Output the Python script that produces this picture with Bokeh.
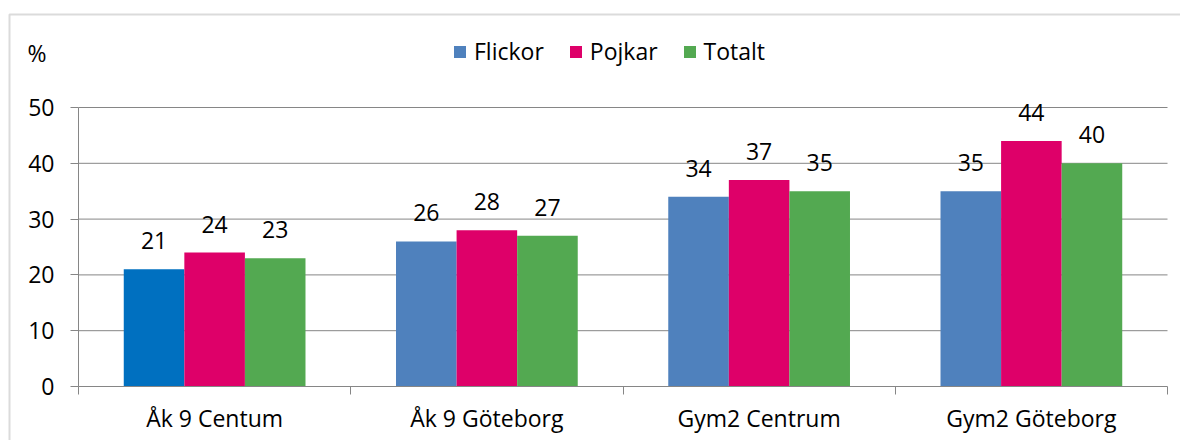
from bokeh.plotting import figure
from bokeh.models import (ColumnDataSource, Range1d, FixedTicker, Legend, LegendItem,
                          LabelSet, Label, LinearAxis, BoxAnnotation)
from bokeh.core.properties import value
from bokeh.embed import file_html
from bokeh.resources import INLINE

# ---- data ----
categories = ["Åk 9 Centum", "Åk 9 Göteborg", "Gym2 Centrum", "Gym2 Göteborg"]
flickor = [21, 26, 34, 35]
pojkar = [24, 28, 37, 44]
totalt = [23, 27, 35, 40]
series_names = ["Flickor", "Pojkar", "Totalt"]
y_ticks = [0, 10, 20, 30, 40, 50]
y_max = 50

# ---- style / layout ----
FONT = "Open Sans"
FS = "23px"
GRAY = "#868686"
BORDER = "#898989"
C_FLICKOR = "#4F81BD"
C_FLICKOR_FIRST = "#0070C0"
C_POJKAR = "#DE0069"
C_TOTALT = "#53A951"
BAR_W = 0.2225

W, H = 1180, 440
PAD_L, PAD_R, PAD_T, PAD_B = 78, 13, 107, 54   # plot area inside the canvas (px)

n = len(categories)
xpp = n / (W - PAD_L - PAD_R)          # data units per pixel
ypp = y_max / (H - PAD_T - PAD_B)
x_range = Range1d(-PAD_L * xpp, n + PAD_R * xpp)
y_range = Range1d(-PAD_B * ypp, y_max + PAD_T * ypp)

p = figure(width=W, height=H, output_backend="svg", toolbar_location=None,
           x_range=x_range, y_range=y_range, x_axis_location=None, y_axis_location=None,
           min_border=0, background_fill_color="white", border_fill_color="white")
p.outline_line_color = None
p.grid.visible = False

# chart border (top and left edges visible)
p.add_layout(BoxAnnotation(left=x_range.start + 9 * xpp, top=y_range.end - 14 * ypp,
                           right=x_range.end + 10, bottom=y_range.start - 10,
                           fill_alpha=0, line_color=BORDER, line_width=2))

# horizontal gridlines
grid_y = [t for t in y_ticks if t > 0]
p.segment(x0=[0] * len(grid_y), x1=[n] * len(grid_y), y0=grid_y, y1=grid_y,
          line_color=GRAY, line_width=1)

# y axis
yaxis = LinearAxis(fixed_location=0, bounds=(0, y_max), ticker=FixedTicker(ticks=y_ticks))
yaxis.axis_line_color = GRAY
yaxis.major_tick_line_color = GRAY
yaxis.major_tick_out = 8
yaxis.major_tick_in = 0
yaxis.minor_tick_line_color = None
yaxis.major_label_standoff = 16
yaxis.major_label_text_font = FONT
yaxis.major_label_text_font_size = FS
yaxis.major_label_text_color = "black"
p.add_layout(yaxis, "left")

# x axis: labels at category centres, ticks at category boundaries
centers = [i + 0.5 for i in range(n)]
xaxis = LinearAxis(fixed_location=0, bounds=(0, n),
                   ticker=FixedTicker(ticks=centers, minor_ticks=list(range(n + 1))))
xaxis.major_label_overrides = {c: name for c, name in zip(centers, categories)}
xaxis.axis_line_color = GRAY
xaxis.major_tick_line_color = None
xaxis.major_tick_out = 8
xaxis.minor_tick_line_color = GRAY
xaxis.minor_tick_out = 8
xaxis.minor_tick_in = 0
xaxis.major_label_standoff = 7
xaxis.major_label_text_font = FONT
xaxis.major_label_text_font_size = FS
xaxis.major_label_text_color = "black"
p.add_layout(xaxis, "below")

flickor_colors = [C_FLICKOR_FIRST] + [C_FLICKOR] * (n - 1)
series = [(flickor, flickor_colors, C_FLICKOR),
          (pojkar, [C_POJKAR] * n, C_POJKAR),
          (totalt, [C_TOTALT] * n, C_TOTALT)]

items = []
for j, (vals, cols, legend_col) in enumerate(series):
    xs = [c + (j - 1) * BAR_W for c in centers]
    src = ColumnDataSource(dict(x=xs, top=vals, color=cols, label=[str(v) for v in vals]))
    p.vbar(x="x", top="top", width=BAR_W, bottom=0, source=src,
           fill_color="color", line_color=None)
    proxy = p.vbar(x=[0], top=[0], width=0, fill_color=legend_col, line_color=None)
    items.append(LegendItem(label=series_names[j], renderers=[proxy]))
    p.add_layout(LabelSet(x="x", y="top", text="label", source=src, text_align="center",
                          text_baseline="alphabetic", y_offset=20, text_font=value(FONT),
                          text_font_size=value(FS), text_color="black"))

legend = Legend(items=items, orientation="horizontal", location=(452, H - 67),
                glyph_width=15, glyph_height=15, label_standoff=7, spacing=24,
                padding=0, margin=0, border_line_color=None, background_fill_alpha=0,
                label_text_font=FONT, label_text_font_size=FS, label_text_color="black")
p.add_layout(legend, "center")

p.add_layout(Label(x=27, y=H - 52, x_units="screen", y_units="screen", text="%",
                   text_baseline="middle", text_font=FONT, text_font_size=FS,
                   text_color="black"))

open("out.html", "w").write(file_html(p, INLINE))
